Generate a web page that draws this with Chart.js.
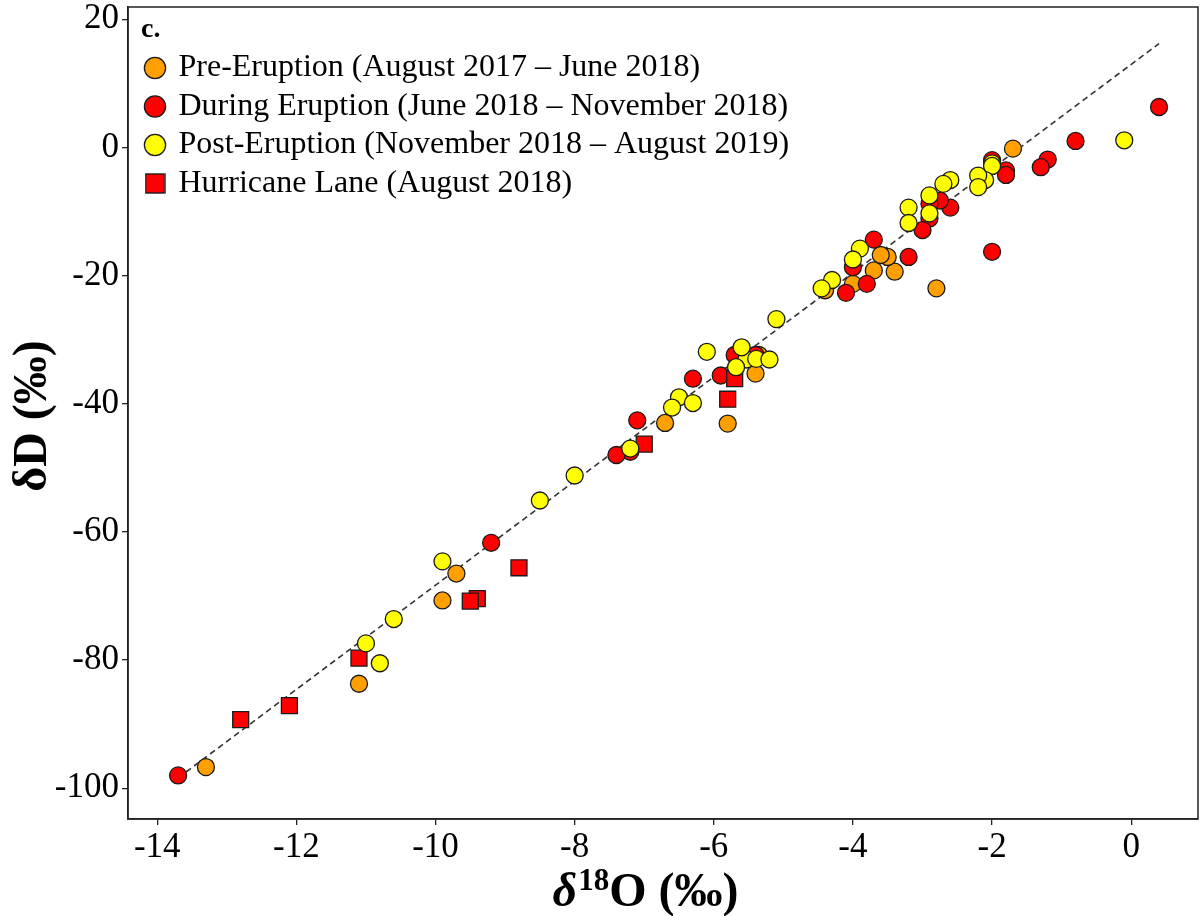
<!DOCTYPE html>
<html><head><meta charset="utf-8">
<script src="https://cdn.jsdelivr.net/npm/chart.js@4.4.0/dist/chart.umd.min.js"></script>
<style>html,body{margin:0;padding:0;background:#fff}#wrap{width:1201px;height:916px}</style>
</head><body><div id="wrap"><canvas id="c" width="1201" height="916"></canvas></div>
<script>
// ---- data ----
const seriesNames = [
  'Pre-Eruption (August 2017 – June 2018)',
  'During Eruption (June 2018 – November 2018)',
  'Post-Eruption (November 2018 – August 2019)',
  'Hurricane Lane (August 2018)'
];
const preX = [-1.7, -2.8, -3.4, -3.5, -3.7, -3.6, -4.0, -4.4, -5.35, -5.4, -5.8, -6.7, -9.7, -9.9, -11.1, -13.3];
const preY = [-0.2, -22.0, -19.4, -17.1, -19.2, -16.8, -21.3, -22.3, -32.4, -35.3, -43.1, -43.0, -66.5, -70.7, -83.7, -96.7];
const duringX = [0.4, -0.8, -1.2, -1.3, -1.8, -1.8, -2.0, -2.0, -2.6, -2.75, -2.9, -2.9, -3.0, -3.7, -3.2, -4.0, -3.8, -4.1, -5.4, -5.7, -5.9, -6.3, -7.1, -7.2, -7.4, -9.2, -13.7];
const duringY = [6.3, 1.0, -1.9, -3.1, -3.6, -4.3, -2.0, -16.3, -9.4, -8.3, -8.8, -11.1, -12.9, -14.4, -17.1, -18.7, -21.3, -22.7, -32.4, -32.4, -35.6, -36.1, -42.6, -47.5, -48.0, -61.7, -98.0];
const postX = [-0.1, -2.0, -2.0, -2.1, -2.2, -2.2, -2.6, -2.7, -2.9, -2.9, -3.2, -3.2, -3.9, -4.0, -4.3, -4.45, -5.1, -5.53, -5.6, -5.39, -5.2, -5.68, -6.1, -6.5, -6.3, -6.6, -7.2, -8.0, -8.5, -9.9, -10.6, -11.0, -10.8];
const postY = [1.1, -2.5, -2.9, -5.1, -4.4, -6.2, -5.1, -5.7, -7.5, -10.3, -9.4, -11.8, -15.8, -17.5, -20.7, -22.0, -26.8, -33.1, -31.2, -33.0, -33.1, -34.3, -31.9, -39.0, -39.9, -40.6, -47.0, -51.2, -55.1, -64.6, -73.6, -77.4, -80.5];
const laneX = [-5.7, -5.8, -7.0, -8.8, -9.4, -9.5, -11.1, -12.1, -12.8];
const laneY = [-36.1, -39.3, -46.3, -65.6, -70.4, -70.8, -79.7, -87.1, -89.3];
const fitLineX = [-13.7, 0.4];
const fitLineY = [-98.4, 16.2];
const xTickValues = [-14, -12, -10, -8, -6, -4, -2, 0];
const yTickValues = [-100, -80, -60, -40, -20, 0, 20];
// --------------------------------------

const pts = (xs, ys) => xs.map((x, i) => ({x, y: ys[i]}));
const SERIF = '"Liberation Serif", "Times New Roman", serif';
const markerBorder = '#1a1a1a';

// legend swatch for the square series (slightly larger than the circles, as in the reference)
const squareSwatch = (() => {
  const c = document.createElement('canvas');
  c.width = 21; c.height = 21;
  const g = c.getContext('2d');
  g.fillStyle = '#FF0000';
  g.fillRect(1, 1, 19, 19);
  g.strokeStyle = markerBorder; g.lineWidth = 1.4;
  g.strokeRect(1, 1, 19, 19);
  return c;
})();

const framePlugin = {
  id: 'frame',
  afterDatasetsDraw(chart) {
    const {ctx, chartArea: a} = chart;
    ctx.save();
    ctx.strokeStyle = '#222';
    ctx.lineWidth = 1.5;
    ctx.strokeRect(a.left, a.top, a.right - a.left, a.bottom - a.top);
    ctx.restore();
  }
};

const titlesPlugin = {
  id: 'axisTitles',
  afterDraw(chart) {
    const ctx = chart.ctx;
    ctx.save();
    ctx.fillStyle = '#000';
    const fD = 'italic bold 48px ' + SERIF, fS = 'bold 31px ' + SERIF, fO = 'bold 48px ' + SERIF;
    ctx.font = fD; const w1 = ctx.measureText('δ').width;
    ctx.font = fS; const w2 = ctx.measureText('18').width;
    ctx.font = fO; const w3 = ctx.measureText('O (‰)').width;
    const total = w1 + w2 + w3;
    let x = 645 - total / 2;
    const base = 906;
    ctx.textBaseline = 'alphabetic';
    ctx.textAlign = 'left';
    ctx.font = fD; ctx.fillText('δ', x, base); x += w1 + 1;
    ctx.font = fS; ctx.fillText('18', x, base - 16); x += w2;
    ctx.font = fO; ctx.fillText('O (‰)', x, base);
    ctx.translate(34, 416);
    ctx.rotate(-Math.PI / 2);
    ctx.textAlign = 'center';
    ctx.textBaseline = 'middle';
    ctx.font = 'bold 48px ' + SERIF;
    ctx.fillText('δD (‰)', 0, 0);
    ctx.restore();
  }
};

const legendShift = {
  id: 'legendShift',
  afterLayout(chart) {
    const l = chart.legend;
    if (l) { l.left += 13; l.right += 13; }
  }
};

new Chart(document.getElementById('c'), {
  type: 'scatter',
  data: {
    datasets: [
      {label: seriesNames[0], data: pts(preX, preY), backgroundColor: '#FFA000', borderColor: markerBorder, borderWidth: 1.3, pointRadius: 8.5, pointStyle: 'circle', order: 3},
      {label: seriesNames[1], data: pts(duringX, duringY), backgroundColor: '#FF0000', borderColor: markerBorder, borderWidth: 1.3, pointRadius: 8.5, pointStyle: 'circle', order: 2},
      {label: seriesNames[2], data: pts(postX, postY), backgroundColor: '#FFFF00', borderColor: markerBorder, borderWidth: 1.3, pointRadius: 8.5, pointStyle: 'circle', order: 0},
      {label: seriesNames[3], data: pts(laneX, laneY), backgroundColor: '#FF0000', borderColor: markerBorder, borderWidth: 1.3, pointRadius: 11.3, pointStyle: 'rect', order: 1},
      {label: 'fit', type: 'line', data: pts(fitLineX, fitLineY), borderColor: '#333', borderWidth: 1.6, borderDash: [6, 4], pointRadius: 0, fill: false, order: 4}
    ]
  },
  options: {
    responsive: false,
    devicePixelRatio: 1,
    animation: false,
    layout: {autoPadding: false, padding: {left: 0, right: 3, top: 7, bottom: 0}},
    plugins: {
      tooltip: {enabled: false},
      legend: {
        position: 'chartArea',
        align: 'start',
        title: {display: true, text: 'c.', color: '#000', position: 'start',
                font: {family: SERIF, size: 28, weight: 'bold', lineHeight: 1.0}, padding: {top: 16, bottom: 1.5}},
        labels: {
          usePointStyle: true, boxWidth: 15, boxHeight: 15, padding: 6.5,
          color: '#000', font: {family: SERIF, size: 32},
          filter: item => item.datasetIndex < 4,
          sort: (a, b) => a.datasetIndex - b.datasetIndex,
          generateLabels: chart => {
            const items = Chart.defaults.plugins.legend.labels.generateLabels(chart);
            items.forEach(it => { if (it.datasetIndex === 3) it.pointStyle = squareSwatch; });
            return items;
          }
        }
      }
    },
    scales: {
      x: {
        type: 'linear', min: -14.42, max: 0.96,
        afterBuildTicks: s => { s.ticks = xTickValues.map(v => ({value: v})); },
        afterFit: s => { s.height = 97; s.paddingLeft = 0; s.paddingRight = 0; },
        ticks: {color: '#000', font: {family: SERIF, size: 35}, padding: 2, maxRotation: 0},
        grid: {drawOnChartArea: false, color: '#222', tickLength: 6, lineWidth: 1.3},
        border: {display: true, color: '#222', width: 1.5}
      },
      y: {
        type: 'linear', min: -104.8, max: 21.9,
        afterBuildTicks: s => { s.ticks = yTickValues.map(v => ({value: v})); },
        afterFit: s => { s.width = 128; s.paddingTop = 0; s.paddingBottom = 0; },
        ticks: {color: '#000', font: {family: SERIF, size: 35}, padding: 3},
        grid: {drawOnChartArea: false, color: '#222', tickLength: 6, lineWidth: 1.3},
        border: {display: true, color: '#222', width: 1.5}
      }
    }
  },
  plugins: [framePlugin, titlesPlugin, legendShift]
});
</script>
</body></html>
